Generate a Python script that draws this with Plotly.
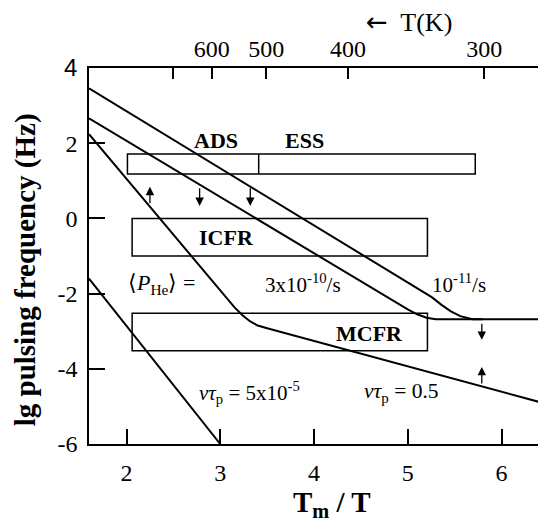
import plotly.graph_objects as go

# ---------------- data ----------------
TM = 1745.0  # melting temperature used for the top T(K) axis
top_T_values = [700, 600, 500, 400, 300]
top_T_labels = ["", "600", "500", "400", "300"]

x_ticks = [2, 3, 4, 5, 6]
y_ticks = [-6, -4, -2, 0, 2, 4]
y_tick_labels = ["-6", "-4", "-2", "0", "2",
                 "<span style='font-family:Liberation Sans'>4</span>"]

# 10^-11 /s curve
a_x = [1.6, 5.26, 5.36, 5.46, 5.56, 5.69, 5.8]
a_y = [3.46, -2.10, -2.30, -2.47, -2.60, -2.68, -2.68]
# 3x10^-10 /s curve (continues flat)
b_x = [1.6, 4.9, 5.0, 5.1, 5.2, 5.3, 6.4]
b_y = [2.66, -2.29, -2.42, -2.55, -2.64, -2.68, -2.68]
# nu*tau_p = 0.5 curve
c_x = [1.6, 3.15, 3.24, 3.32, 3.40, 3.50, 6.4]
c_y = [2.24, -2.36, -2.58, -2.74, -2.85, -2.92, -4.88]
# nu*tau_p = 5x10^-5 curve
d_x = [1.6, 3.0]
d_y = [-1.6, -6.0]

# boxes: (x0, x1, y0, y1)
box_ads_ess = (2.01, 5.72, 1.18, 1.71)
ads_ess_divider = 3.41
box_icfr = (2.06, 5.21, -1.0, 0.0)
box_mcfr = (2.06, 5.21, -3.52, -2.52)

# arrows: (x, y_tail, y_head)
arrows = [
    (2.25, 0.36, 0.84),
    (2.78, 0.84, 0.33),
    (3.32, 0.84, 0.33),
    (5.79, -2.76, -3.23),
    (5.79, -4.43, -3.95),
]

# labels: (text, x, y, size)
labels = [
    ("<b>ADS</b>", 2.95, 2.08, 22),
    ("<b>ESS</b>", 3.90, 2.08, 22),
    ("<b>ICFR</b>", 3.07, -0.52, 22),
    ("<b>MCFR</b>", 4.59, -3.05, 22),
    ("\u27e8<i>P</i><sub>He</sub>\u27e9 =", 2.37, -1.74, 22),
    ("3x10<sup>-10</sup>/s", 3.88, -1.74, 21),
    ("10<sup>-11</sup>/s", 5.55, -1.74, 21),
    ("<i>\u03bd\u03c4</i><sub>p</sub> = 5x10<sup>-5</sup>", 3.31, -4.62, 21),
    ("<i>\u03bd\u03c4</i><sub>p</sub> = 0.5", 4.93, -4.64, 21.5),
]

SERIF = "Liberation Serif, Times New Roman, serif"

# page has an 8px body margin: figure is placed at (8, 8)
OFF = 8
W, H = 546 - OFF, 524 - OFF
ML, MR, MT, MB = 89 - OFF, 5, 68 - OFF, 80
PW, PH = W - ML - MR, H - MT - MB


def paper_x(page_x):
    return (page_x - OFF - ML) / PW


def paper_y(page_y):
    return 1 - (page_y - OFF - MT) / PH


fig = go.Figure()
line_style = dict(color="black", width=2)
for xs, ys in [(a_x, a_y), (b_x, b_y), (c_x, c_y), (d_x, d_y)]:
    fig.add_trace(go.Scatter(x=xs, y=ys, mode="lines", line=line_style,
                             hoverinfo="skip", showlegend=False))

# invisible trace on top axis so that it is drawn
fig.add_trace(go.Scatter(x=[2, 6], y=[0, 0], xaxis="x2", mode="lines",
                         line=dict(width=0), opacity=0, showlegend=False,
                         hoverinfo="skip"))

shapes = []
for (x0, x1, y0, y1) in [box_ads_ess, box_icfr, box_mcfr]:
    shapes.append(dict(type="rect", xref="x", yref="y", x0=x0, x1=x1, y0=y0, y1=y1,
                       line=dict(color="black", width=1.5)))
shapes.append(dict(type="line", xref="x", yref="y", x0=ads_ess_divider, x1=ads_ess_divider,
                   y0=box_ads_ess[2], y1=box_ads_ess[3], line=dict(color="black", width=1.5)))

annotations = []
for (x, yt, yh) in arrows:
    annotations.append(dict(x=x, y=yh, ax=x, ay=yt, xref="x", yref="y", axref="x", ayref="y",
                            showarrow=True, arrowhead=2, arrowsize=1.3, arrowwidth=1.3,
                            arrowcolor="black", text=""))
for (t, x, y, s) in labels:
    annotations.append(dict(x=x, y=y, xref="x", yref="y", text=t, showarrow=False,
                            font=dict(family=SERIF, size=s, color="black")))
# T(K) header
annotations.append(dict(x=paper_x(410), y=paper_y(22), xref="paper", yref="paper",
                        text="<span style='font-family:DejaVu Sans'>\u2190</span>  T(K)",
                        showarrow=False, xanchor="center", yanchor="middle",
                        font=dict(family=SERIF, size=26, color="black")))
# y title
annotations.append(dict(x=paper_x(25), y=paper_y(270), xref="paper", yref="paper",
                        text="<b>lg pulsing frequency (Hz)</b>", textangle=-90,
                        showarrow=False, xanchor="center", yanchor="middle",
                        font=dict(family=SERIF, size=29, color="black")))
# x title
annotations.append(dict(x=paper_x(333), y=paper_y(504), xref="paper", yref="paper",
                        text="<b>T<sub>m</sub> / T</b>",
                        showarrow=False, xanchor="center", yanchor="middle",
                        font=dict(family=SERIF, size=29, color="black")))

fig.update_layout(
    width=W, height=H,
    margin=dict(l=ML, r=MR, t=MT, b=MB),
    paper_bgcolor="white", plot_bgcolor="white",
    font=dict(family=SERIF, size=24, color="black"),
    shapes=shapes,
    xaxis=dict(range=[1.6, 6.4], tickvals=x_ticks, ticks="inside", ticklen=15, tickwidth=1.5,
               tickcolor="black", showline=True, linecolor="black", linewidth=1.5,
               showgrid=False, zeroline=False, ticklabelstandoff=6,
               tickfont=dict(family=SERIF, size=24)),
    xaxis2=dict(range=[1.6, 6.4], overlaying="x", side="top",
                tickvals=[TM / t for t in top_T_values], ticktext=top_T_labels,
                ticks="inside", ticklen=11, tickwidth=1.5, tickcolor="black",
                showline=True, linecolor="black", linewidth=1.5, showgrid=False,
                zeroline=False, tickfont=dict(family=SERIF, size=24)),
    yaxis=dict(range=[-6, 4], tickvals=y_ticks, ticktext=y_tick_labels,
               ticks="inside", ticklen=16, tickwidth=1.5,
               tickcolor="black", showline=True, linecolor="black", linewidth=1.5,
               mirror=True, showgrid=False, zeroline=False, ticklabelstandoff=5,
               tickfont=dict(family=SERIF, size=24)),
    annotations=annotations,
)

fig.write_html("out.html")
